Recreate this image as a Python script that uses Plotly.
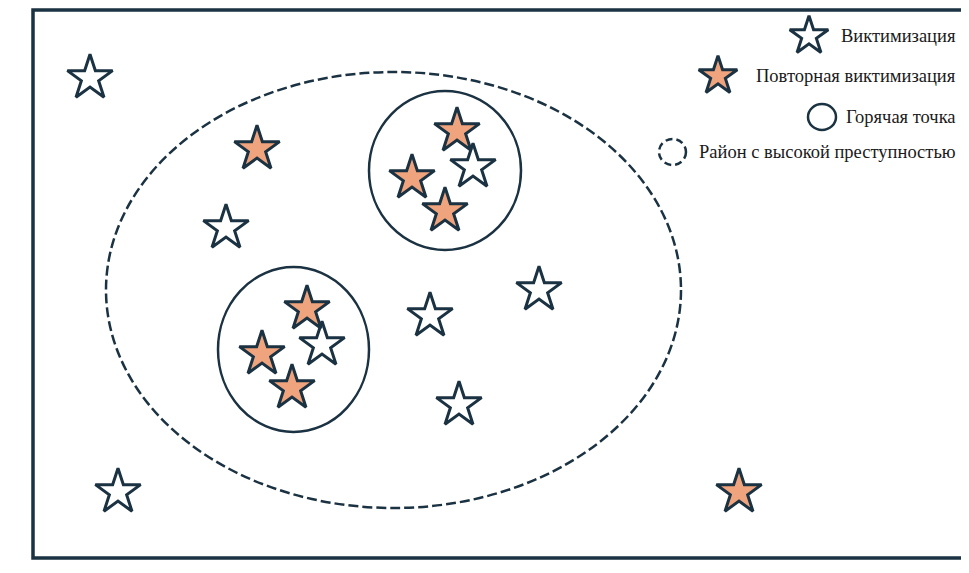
import plotly.graph_objects as go

# Data: incident locations (diagram coordinates, pixel-like units, y downward)
victim_x = [90, 226, 118, 322, 430, 539, 459, 473]
victim_y = [78, 228, 492, 345, 316, 290, 405, 167]
repeat_x = [257, 412, 457, 445, 307, 262, 292, 739]
repeat_y = [149, 178, 131, 211, 309, 354, 388, 492]

legend_labels = ["Виктимизация", "Повторная виктимизация", "Горячая точка", "Район с высокой преступностью"]

DARK = "#1b3242"
ORANGE = "#f0a47d"
OFF = 8  # page body margin
W, H = 969 - 2 * OFF, 573 - 2 * OFF

fig = go.Figure()

shapes = [
    # frame
    dict(type="rect", x0=33, y0=10, x1=985, y1=558, line=dict(color=DARK, width=3.5)),
    # high-crime area
    dict(type="circle", x0=106, y0=72, x1=681, y1=508, line=dict(color=DARK, width=2.5, dash="10px,4px")),
    # hot spots
    dict(type="circle", x0=369, y0=91, x1=521, y1=250, line=dict(color=DARK, width=2.5)),
    dict(type="circle", x0=218, y0=267, x1=369, y1=432, line=dict(color=DARK, width=2.5)),
    # legend symbols
    dict(type="circle", x0=808, y0=104, x1=836, y1=130, line=dict(color=DARK, width=2.5)),
    dict(type="circle", x0=659, y0=139, x1=686, y1=165, line=dict(color=DARK, width=2.5, dash="7px,4px")),
]

fig.add_trace(go.Scatter(x=victim_x, y=victim_y, mode="markers",
                         marker=dict(symbol="star", size=34, color="white",
                                     line=dict(color=DARK, width=3)),
                         name=legend_labels[0], hoverinfo="skip"))
fig.add_trace(go.Scatter(x=repeat_x, y=repeat_y, mode="markers",
                         marker=dict(symbol="star", size=34, color=ORANGE,
                                     line=dict(color=DARK, width=3)),
                         name=legend_labels[1], hoverinfo="skip"))

# legend star symbols
fig.add_trace(go.Scatter(x=[809], y=[36], mode="markers",
                         marker=dict(symbol="star", size=29, color="white", line=dict(color=DARK, width=3)),
                         hoverinfo="skip"))
fig.add_trace(go.Scatter(x=[718], y=[76], mode="markers",
                         marker=dict(symbol="star", size=29, color=ORANGE, line=dict(color=DARK, width=3)),
                         hoverinfo="skip"))

text_y = [36, 76, 117, 152]
annotations = []
for lbl, ty in zip(legend_labels, text_y):
    annotations.append(dict(x=958, y=ty, text=lbl, showarrow=False, xanchor="right", yanchor="middle",
                            font=dict(family="Liberation Serif", size=18.5, color="#1a1a1a")))

fig.update_layout(
    width=W, height=H, margin=dict(l=0, r=0, t=0, b=0),
    plot_bgcolor="white", paper_bgcolor="white", showlegend=False,
    shapes=shapes, annotations=annotations,
    xaxis=dict(range=[OFF, OFF + W], visible=False, fixedrange=True),
    yaxis=dict(range=[OFF + H, OFF], visible=False, fixedrange=True),
)

fig.write_html("out.html", config={"displayModeBar": False})
